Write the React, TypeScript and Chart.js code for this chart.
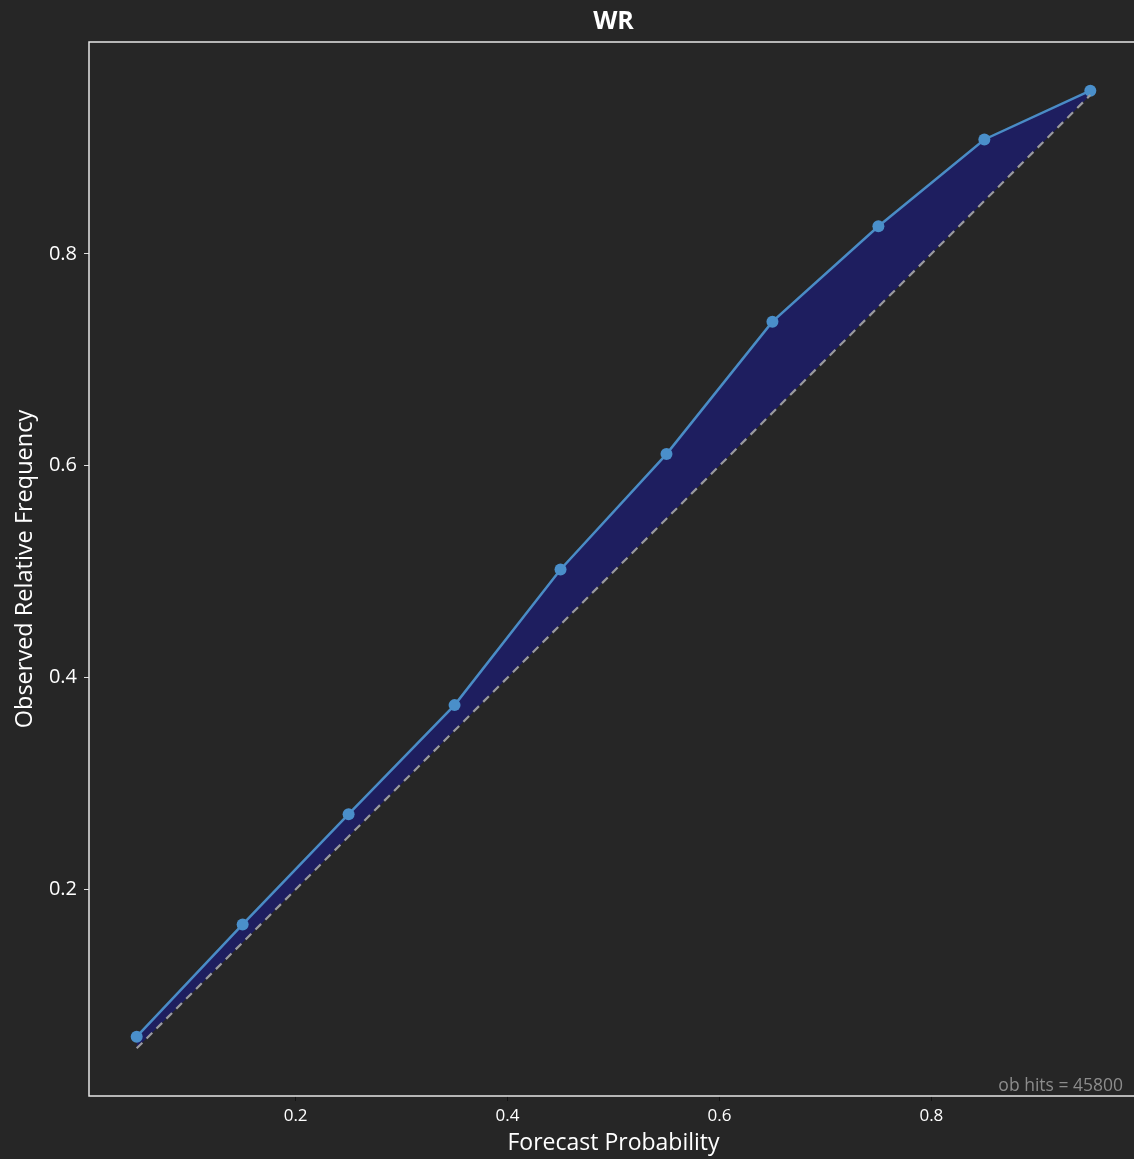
import React, { useEffect, useRef } from "react";
import { Chart, registerables } from "chart.js";

Chart.register(...registerables);

const forecastProbability = [0.05, 0.15, 0.25, 0.35, 0.45, 0.55, 0.65, 0.75, 0.85, 0.95];
const observedFrequency = [0.061, 0.167, 0.271, 0.374, 0.502, 0.611, 0.736, 0.826, 0.908, 0.954];
const tickValues = [0.2, 0.4, 0.6, 0.8];
const titleText = "WR";
const xLabel = "Forecast Probability";
const yLabel = "Observed Relative Frequency";
const obHitsText = "ob hits = 45800";

const FONT = "'Open Sans', 'DejaVu Sans', sans-serif";

export default function App() {
  const ref = useRef<HTMLCanvasElement | null>(null);

  useEffect(() => {
    document.body.style.margin = "0";
    document.body.style.background = "#262626";
    const canvas = ref.current;
    if (!canvas) return;

    const frame = {
      id: "frame",
      afterDatasetsDraw(chart: any) {
        const { ctx, chartArea } = chart;
        ctx.save();
        ctx.strokeStyle = "#e6e6e6";
        ctx.lineWidth = 1.5;
        ctx.strokeRect(chartArea.left, chartArea.top, chartArea.right - chartArea.left, chartArea.bottom - chartArea.top);
        ctx.fillStyle = "#8c8c8c";
        ctx.font = `17.5px ${FONT}`;
        ctx.textAlign = "right";
        ctx.textBaseline = "alphabetic";
        ctx.fillText(obHitsText, chartArea.right - 15, chartArea.bottom - 5);
        ctx.fillStyle = "#ffffff";
        ctx.font = `bold 25px ${FONT}`;
        ctx.textAlign = "center";
        ctx.textBaseline = "middle";
        ctx.fillText(titleText, (chartArea.left + chartArea.right) / 2, 22);
        ctx.restore();
      },
    };

    const chart = new Chart(canvas, {
      type: "scatter",
      data: {
        datasets: [
          {
            label: "perfect",
            data: forecastProbability.map((p) => ({ x: p, y: p })),
            showLine: true,
            borderColor: "#9a9a9e",
            borderWidth: 2.2,
            borderDash: [8, 6],
            pointRadius: 0,
            fill: false,
          },
          {
            label: "reliability",
            data: forecastProbability.map((p, i) => ({ x: p, y: observedFrequency[i] })),
            showLine: true,
            borderColor: "#4a8cc6",
            borderWidth: 2.5,
            pointRadius: 6,
            pointBackgroundColor: "#4a8fca",
            pointBorderWidth: 0,
            backgroundColor: "#1e1e5f",
            fill: { target: 0 },
          },
        ],
      },
      options: {
        animation: false,
        responsive: false,
        devicePixelRatio: 1,
        layout: { padding: { left: 0, right: 3, top: 42, bottom: 0 } },
        plugins: {
          legend: { display: false },
          tooltip: { enabled: false },
          title: { display: false },
        },
        scales: {
          x: {
            type: "linear",
            min: 0.005,
            max: 0.995,
            afterBuildTicks: (scale: any) => {
              scale.ticks = tickValues.map((v) => ({ value: v }));
            },
            afterFit: (scale: any) => {
              scale.height = 63;
            },
            ticks: {
              color: "#ffffff",
              font: { family: FONT, size: 17 },
              padding: 5,
              maxRotation: 0,
              callback: (v: any) => String(Number(v).toFixed(1)),
            },
            grid: { display: true, drawOnChartArea: false, drawTicks: true, tickLength: 5, color: "#111111" },
            border: { display: false },
            title: {
              display: true,
              text: xLabel,
              color: "#ffffff",
              font: { family: FONT, size: 23, lineHeight: 1.2 },
              padding: { top: 0, bottom: 1.5 },
            },
          },
          y: {
            type: "linear",
            min: 0.005,
            max: 1.0,
            afterBuildTicks: (scale: any) => {
              scale.ticks = tickValues.map((v) => ({ value: v }));
            },
            afterFit: (scale: any) => {
              scale.width = 89;
            },
            ticks: {
              color: "#ffffff",
              font: { family: FONT, size: 20 },
              padding: 7,
              callback: (v: any) => String(Number(v).toFixed(1)),
            },
            grid: { display: true, drawOnChartArea: false, drawTicks: true, tickLength: 5, color: "#e0e0e0" },
            border: { display: false },
            title: {
              display: true,
              text: yLabel,
              color: "#ffffff",
              font: { family: FONT, size: 23.5, lineHeight: 1.2 },
              padding: { top: 11, bottom: 0 },
            },
          },
        },
      },
      plugins: [frame],
    } as any);

    return () => chart.destroy();
  }, []);

  return (
    <div style={{ position: "fixed", left: 0, top: 0, width: 1134, height: 1159, overflow: "hidden", background: "#262626" }}>
      <canvas ref={ref} width={1144} height={1159} style={{ display: "block", width: 1144, height: 1159 }} />
    </div>
  );
}
